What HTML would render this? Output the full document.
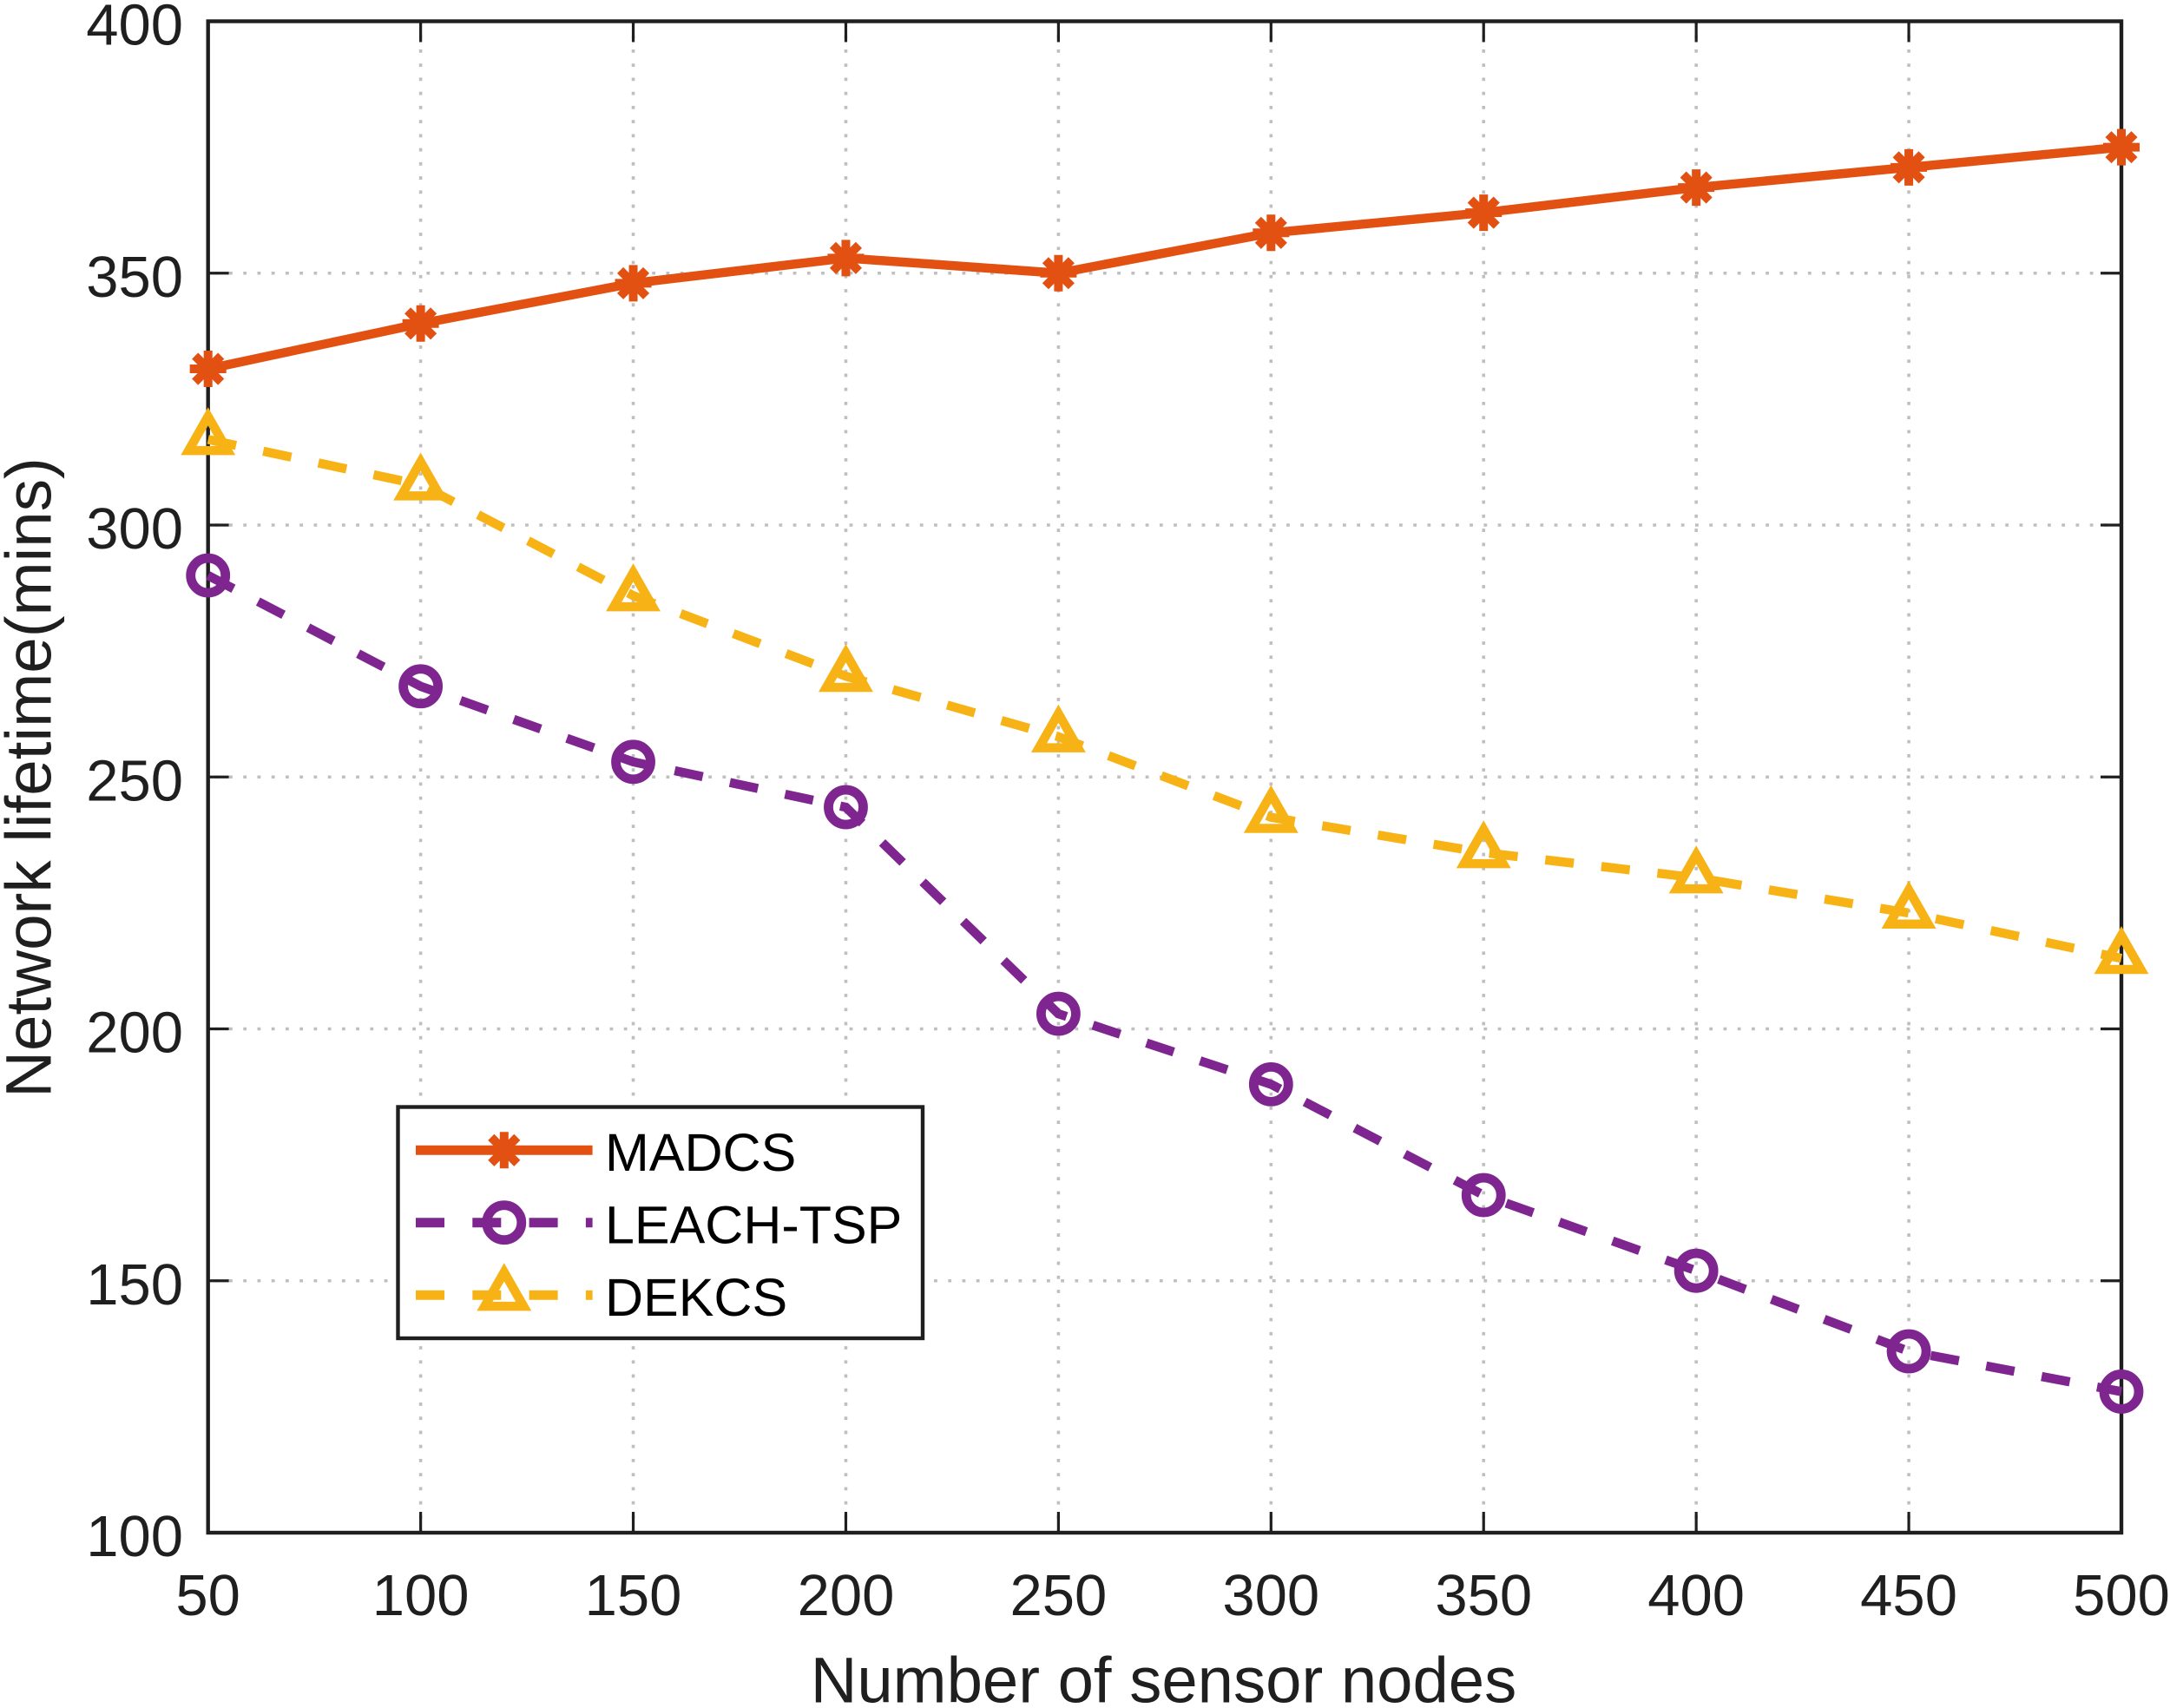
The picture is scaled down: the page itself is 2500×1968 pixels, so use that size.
<!DOCTYPE html>
<html>
<head>
<meta charset="utf-8">
<title>Network lifetime vs number of sensor nodes</title>
<style>
html,body{margin:0;padding:0;background:#fff;}
svg{display:block;font-family:"Liberation Sans",Arial,sans-serif;}
</style>
</head>
<body>
<svg id="chart" xmlns="http://www.w3.org/2000/svg" width="2500" height="1968" viewBox="0 0 2500 1968"></svg>
<script>
const categories = [50, 100, 150, 200, 250, 300, 350, 400, 450, 500];
const madcsValues = [331, 340, 348, 353, 350, 358, 362, 367, 371, 375];
const leachTspValues = [290, 268, 253, 244, 203, 189, 167, 152, 136, 128];
const dekcsValues = [317, 308, 286, 270, 258, 242, 235, 230, 223, 214];
const xTickLabels = [50, 100, 150, 200, 250, 300, 350, 400, 450, 500];
const yTickLabels = [100, 150, 200, 250, 300, 350, 400];
const seriesNames = ['MADCS', 'LEACH-TSP', 'DEKCS'];

const NS = 'http://www.w3.org/2000/svg';
const svg = document.getElementById('chart');
const L = 239.7, R = 2444, T = 24.5, B = 1766;
const INK = '#1f1f1f';
const ORANGE = '#E25012', PURPLE = '#7E2590', YELLOW = '#F7B316';
const xMin = 50, xMax = 500, yMin = 100, yMax = 400;
function xs(v){ return L + (v - xMin) / (xMax - xMin) * (R - L); }
function ys(v){ return B - (v - yMin) / (yMax - yMin) * (B - T); }
function make(tag, attrs, parent){
  const e = document.createElementNS(NS, tag);
  for (const k in attrs) e.setAttribute(k, attrs[k]);
  (parent || svg).appendChild(e);
  return e;
}

/* grid */
const gridGroup = make('g', {});


xTickLabels.forEach(function(v){
  if (v === xMin || v === xMax) return;
  const el = make('line', {x1: xs(v), x2: xs(v), y1: B, y2: T, stroke: '#bfbfbf', 'stroke-width': 3.6, 'stroke-dasharray': '3.8 12.44'}, gridGroup);
  
  
});
yTickLabels.forEach(function(v){
  if (v === yMin || v === yMax) return;
  const el = make('line', {x1: R, x2: L, y1: ys(v), y2: ys(v), stroke: '#bfbfbf', 'stroke-width': 3.6, 'stroke-dasharray': '3.8 12.44'}, gridGroup);
  
  
});

/* ticks */
const TICK = 24;
const tickGroup = make('g', {stroke: INK, 'stroke-width': 3.2});


xTickLabels.forEach(function(v){
  const a = make('line', {x1: xs(v), x2: xs(v), y1: B, y2: B - TICK}, tickGroup);
  
  
  const b = make('line', {x1: xs(v), x2: xs(v), y1: T, y2: T + TICK}, tickGroup);
  
  
});
yTickLabels.forEach(function(v){
  const a = make('line', {x1: L, x2: L + TICK, y1: ys(v), y2: ys(v)}, tickGroup);
  
  
  const b = make('line', {x1: R, x2: R - TICK, y1: ys(v), y2: ys(v)}, tickGroup);
  
  
});

/* axes box */
const box = make('rect', {x: L, y: T, width: R - L, height: B - T, fill: 'none', stroke: INK, 'stroke-width': 4.4});



/* tick labels */
xTickLabels.forEach(function(v){
  const t = make('text', {x: xs(v), y: 1861, 'text-anchor': 'middle', 'font-size': 67, fill: INK});
  
  
  t.textContent = v;
});
yTickLabels.forEach(function(v){
  const t = make('text', {x: 211, y: ys(v) + 27, 'text-anchor': 'end', 'font-size': 67, fill: INK});
  
  
  t.textContent = v;
});

/* axis titles */
const xTitle = make('text', {x: 1340.5, y: 1961.5, 'text-anchor': 'middle', 'font-size': 74.3, fill: INK});


xTitle.textContent = 'Number of sensor nodes';
const yTitle = make('text', {x: 0, y: 0, transform: 'translate(58.5 896) rotate(-90)', 'text-anchor': 'middle', 'font-size': 74.6, fill: INK});


yTitle.textContent = 'Network lifetime(mins)';

/* markers */
function drawAsterisk(parent, cx, cy, color){
  const g = make('g', {stroke: color, 'stroke-width': 10, fill: 'none'}, parent);
  
  
  const r = 21, d = 15;
  make('line', {x1: cx - r, x2: cx + r, y1: cy, y2: cy}, g);
  make('line', {x1: cx, x2: cx, y1: cy - r, y2: cy + r}, g);
  make('line', {x1: cx - d, x2: cx + d, y1: cy - d, y2: cy + d}, g);
  make('line', {x1: cx - d, x2: cx + d, y1: cy + d, y2: cy - d}, g);
}
function drawCircle(parent, cx, cy, color){
  const c = make('circle', {cx: cx, cy: cy, r: 20, fill: 'none', stroke: color, 'stroke-width': 10.8}, parent);
  
  
}
function drawTriangle(parent, cx, cy, color){
  const pts = [[cx, cy - 26.5], [cx + 22.4, cy + 12.8], [cx - 22.4, cy + 12.8]].map(function(p){ return p.join(','); }).join(' ');
  const t = make('polygon', {points: pts, fill: 'none', stroke: color, 'stroke-width': 10.5, 'stroke-miterlimit': 10}, parent);
  
  
}

/* series */
function drawSeries(values, color, dashed, marker, name){
  const g = make('g', {});
  
  
  const pts = values.map(function(v, i){ return xs(categories[i]) + ',' + ys(v); }).join(' ');
  const attrs = {points: pts, fill: 'none', stroke: color, 'stroke-width': 10.5, 'stroke-linejoin': 'miter'};
  if (dashed) attrs['stroke-dasharray'] = '33 32';
  const line = make('polyline', attrs, g);
  
  
  values.forEach(function(v, i){ marker(g, xs(categories[i]), ys(v), color); });
}
drawSeries(madcsValues, ORANGE, false, drawAsterisk, 'series-madcs');
drawSeries(leachTspValues, PURPLE, true, drawCircle, 'series-leach-tsp');
drawSeries(dekcsValues, YELLOW, true, drawTriangle, 'series-dekcs');

/* legend */
const legend = make('g', {});


const legendBox = make('rect', {x: 458.5, y: 1275.5, width: 604.5, height: 266.5, fill: '#fff', stroke: INK, 'stroke-width': 4.4}, legend);


const legendLineY = [1325.3, 1408.7, 1492.3];
const legendTextY = [1349, 1432.5, 1516];
const legendColors = [ORANGE, PURPLE, YELLOW];
const legendMarkers = [drawAsterisk, drawCircle, drawTriangle];
seriesNames.forEach(function(n, i){
  const entry = make('g', {}, legend);
  
  
  const attrs = {x1: 479, x2: 682.6, y1: legendLineY[i], y2: legendLineY[i], stroke: legendColors[i], 'stroke-width': 11};
  if (i > 0) attrs['stroke-dasharray'] = '33 32.3';
  const ln = make('line', attrs, entry);
  
  
  legendMarkers[i](entry, 580.8, legendLineY[i], legendColors[i]);
  const t = make('text', {x: 697, y: legendTextY[i], 'font-size': 61, fill: '#000'}, entry);
  
  
  t.textContent = n;
});
</script>
</body>
</html>
